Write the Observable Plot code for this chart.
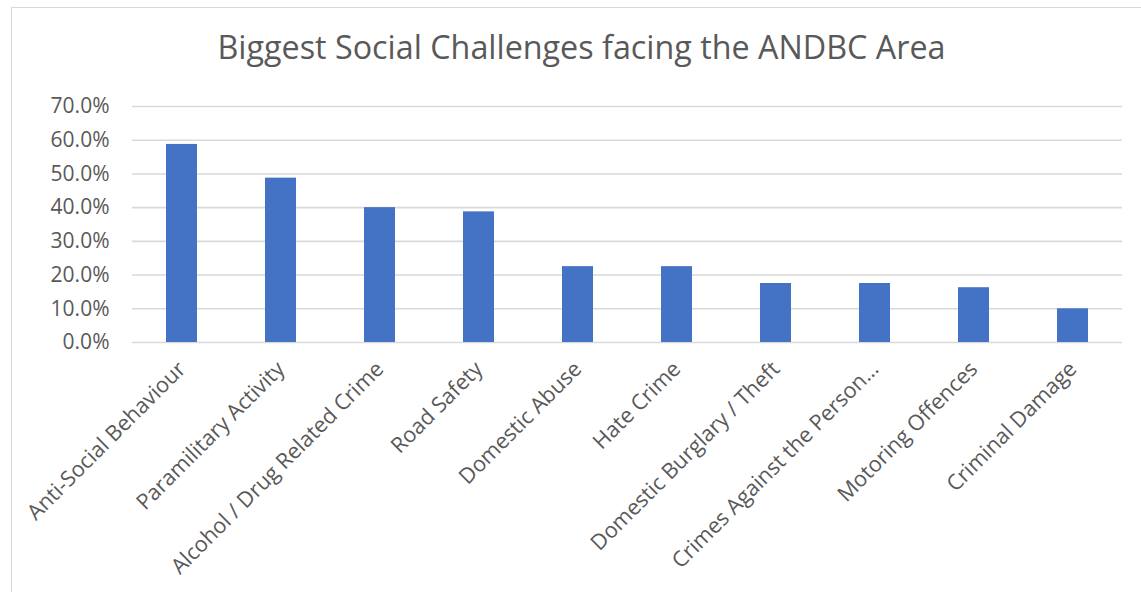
<!DOCTYPE html>
<html>
<head>
<meta charset="utf-8">
<script src="https://cdn.jsdelivr.net/npm/d3@7"></script>
<script src="https://cdn.jsdelivr.net/npm/@observablehq/plot@0.6"></script>
<style>
  html, body { margin: 0; padding: 0; background: #fff; }
  #frame { position: relative; width: 1141px; height: 592px; overflow: hidden; }
  #border { position: absolute; left: 11px; top: 7px; width: 1200px; height: 700px;
            border-left: 1px solid #d9d9d9; border-top: 1px solid #d9d9d9; box-sizing: border-box; }
  #title { position: relative; height: 80px; width: 1141px; margin-left: 11px; text-align: center;
           font-family: "Open Sans", sans-serif; font-size: 32.3px; color: #595959;
           line-height: 33px; padding-top: 30px; box-sizing: border-box; }
  #chart { position: relative; }
</style>
</head>
<body>
<div id="frame">
  <div id="border"></div>
  <div id="title">Biggest Social Challenges facing the ANDBC Area</div>
  <div id="chart"></div>
</div>
<script>
const categories = [
  "Anti-Social Behaviour",
  "Paramilitary Activity",
  "Alcohol / Drug Related Crime",
  "Road Safety",
  "Domestic Abuse",
  "Hate Crime",
  "Domestic Burglary / Theft",
  "Crimes Against the Person…",
  "Motoring Offences",
  "Criminal Damage"
];
const values = [0.5875, 0.4875, 0.40, 0.3875, 0.225, 0.225, 0.175, 0.175, 0.1625, 0.10];
const yTicks = [0, 0.1, 0.2, 0.3, 0.4, 0.5, 0.6, 0.7];

const data = categories.map((c, i) => ({category: c, value: values[i]}));

const chart = Plot.plot({
  width: 1141,
  height: 512,
  marginTop: 26,
  marginBottom: 250,
  marginLeft: 132,
  marginRight: 19,
  style: {fontFamily: "'Open Sans', sans-serif", fontSize: "21px", color: "#595959", background: "transparent"},
  x: {domain: categories, paddingInner: 0.69, paddingOuter: 0.345, label: null},
  y: {domain: [0, 0.7], label: null},
  marks: [
    Plot.ruleY(yTicks, {stroke: "#d9d9d9", strokeWidth: 1.6}),
    Plot.barY(data, {x: "category", y: "value", fill: "#4472c4"}),
    Plot.axisY({ticks: yTicks, tickFormat: d3.format(".1%"), tickSize: 0, tickPadding: 23, label: null, fill: "#595959"}),
    Plot.axisX({tickRotate: -45, tickSize: 0, tickPadding: 23, fontSize: 21.6, label: null, fill: "#595959"})
  ]
});
document.getElementById("chart").appendChild(chart);
</script>
</body>
</html>
